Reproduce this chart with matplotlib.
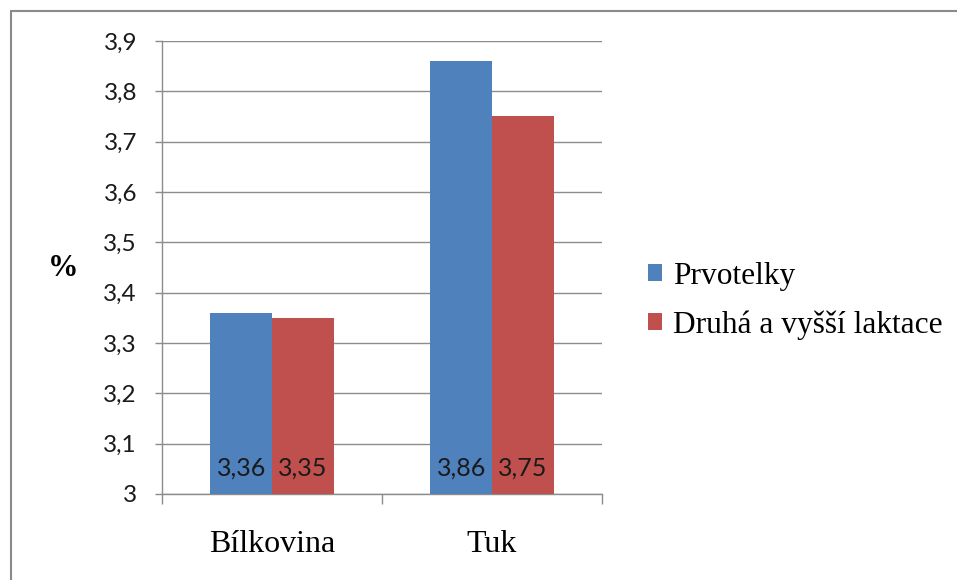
import matplotlib
matplotlib.use("Agg")
import matplotlib.pyplot as plt
from matplotlib.patches import Patch, Rectangle
import numpy as np

categories = ["Bílkovina", "Tuk"]
series_names = ["Prvotelky", "Druhá a vyšší laktace"]
prvotelky = [3.36, 3.86]
vyssi_laktace = [3.35, 3.75]
value_labels = [["3,36", "3,86"], ["3,35", "3,75"]]
y_ticks = [3.0, 3.1, 3.2, 3.3, 3.4, 3.5, 3.6, 3.7, 3.8, 3.9]
y_tick_labels = ["3", "3,1", "3,2", "3,3", "3,4", "3,5", "3,6", "3,7", "3,8", "3,9"]

blue = "#4F81BD"
red = "#C0504D"
grid_grey = "#8c8c8c"

W, H = 957, 580
fig = plt.figure(figsize=(W / 100, H / 100), dpi=100)
fig.patch.set_facecolor("white")

ax = fig.add_axes([162 / W, 1 - 494 / H, 440 / W, 453 / H])

x = np.arange(len(categories))
width = 0.28
ax.bar(x - width / 2, prvotelky, width, color=blue, zorder=3)
ax.bar(x + width / 2, vyssi_laktace, width, color=red, zorder=3)

ax.set_ylim(3.0, 3.9)
ax.set_xlim(-0.5, len(categories) - 0.5)

# value labels near the base of each bar
for i in range(len(categories)):
    for off, lbls in ((-width / 2, value_labels[0]),
                      (width / 2, value_labels[1])):
        ax.annotate(lbls[i], xy=(x[i] + off, 3.0), xytext=(0, 19),
                    textcoords="offset points", ha="center", va="center",
                    fontsize=18, family="Lato", color="#1a1a1a", zorder=4)

# axes styling
for s in ("top", "right"):
    ax.spines[s].set_visible(False)
ax.spines["left"].set_color(grid_grey)
ax.spines["bottom"].set_color(grid_grey)
ax.spines["left"].set_linewidth(1)
ax.spines["bottom"].set_linewidth(1)

ax.set_yticks(y_ticks)
ax.set_yticklabels(y_tick_labels, family="Lato", fontsize=17.5, color="#1a1a1a")
ax.tick_params(axis="y", length=5, width=1, color=grid_grey, pad=13)
ax.yaxis.grid(True, color=grid_grey, linewidth=1, zorder=0)
ax.set_axisbelow(True)

ax.set_xticks(x)
ax.set_xticklabels(categories, family="Liberation Serif", fontsize=23)
ax.tick_params(axis="x", which="major", length=0, pad=26)
ax.set_xticks(np.arange(-0.5, len(categories), 1.0), minor=True)
ax.tick_params(axis="x", which="minor", length=7, width=1, color=grid_grey,
               direction="out")

fig.text(63 / W, 1 - 269 / H, "%", ha="center", va="center",
         family="Liberation Serif", fontsize=22, fontweight="bold")

handles = [Patch(facecolor=blue, edgecolor="none"),
           Patch(facecolor=red, edgecolor="none")]
fig.legend(handles, series_names, loc="center left",
           bbox_to_anchor=(648 / W, 1 - 301 / H), frameon=False,
           prop={"family": "Liberation Serif", "size": 22.6},
           handlelength=0.46, handleheight=0.46, handletextpad=0.33,
           labelspacing=0.62, borderpad=0, borderaxespad=0)

# chart area frame
fig.add_artist(Rectangle((11 / W, -0.1), 1.2, 1.1 - 11 / H,
                         transform=fig.transFigure, fill=False,
                         edgecolor="#8a8a8a", linewidth=1.5))

fig.savefig("out.png", dpi=100, facecolor="white")
